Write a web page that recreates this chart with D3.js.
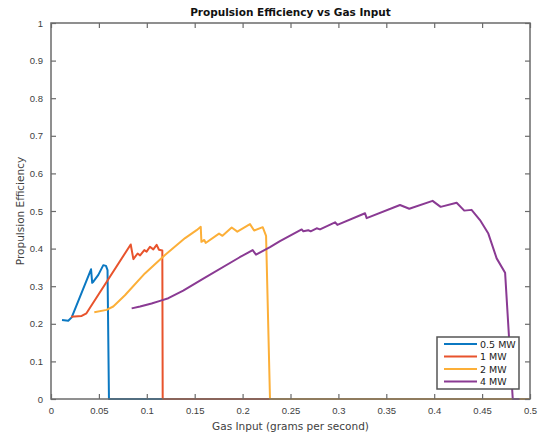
<!DOCTYPE html>
<html>
<head>
<meta charset="utf-8">
<script src="https://cdn.jsdelivr.net/npm/d3@7"></script>
<style>
  html, body { margin: 0; padding: 0; background: #fff; }
  svg { display: block; font-family: "DejaVu Sans", sans-serif; }
</style>
</head>
<body>
<svg id="chart" width="541" height="435"></svg>
<script>
// Propulsion efficiency vs gas input, one series per power level
const seriesNames = ["0.5 MW", "1 MW", "2 MW", "4 MW"];
const seriesColors = ["#0B78C2", "#E8532C", "#FCAF38", "#8A3A93"];

const gas05 = [0.0115, 0.018, 0.0216, 0.0418, 0.043, 0.0442, 0.0494, 0.0546, 0.0574, 0.059, 0.0605, 0.5];
const eff05 = [0.21, 0.208, 0.217, 0.345, 0.309, 0.312, 0.33, 0.356, 0.354, 0.343, 0, 0];

const gas1 = [0.0209, 0.032, 0.037, 0.0832, 0.086, 0.0904, 0.093, 0.0974, 0.0998, 0.1033, 0.1068, 0.1103, 0.1127, 0.1162, 0.1166, 0.5];
const eff1 = [0.219, 0.221, 0.228, 0.411, 0.372, 0.387, 0.382, 0.396, 0.392, 0.405, 0.398, 0.41, 0.397, 0.395, 0, 0];

const gas2 = [0.0452, 0.058, 0.065, 0.0772, 0.098, 0.119, 0.14, 0.152, 0.1563, 0.157, 0.16, 0.1614, 0.1754, 0.179, 0.1886, 0.1945, 0.2077, 0.212, 0.221, 0.2245, 0.2286, 0.5];
const eff2 = [0.231, 0.237, 0.246, 0.276, 0.334, 0.383, 0.428, 0.449, 0.458, 0.418, 0.423, 0.415, 0.44, 0.434, 0.456, 0.445, 0.465, 0.448, 0.457, 0.434, 0, 0];

const gas4 = [0.0842, 0.093, 0.105, 0.1138, 0.1225, 0.138, 0.159, 0.197, 0.2105, 0.214, 0.2286, 0.239, 0.2617, 0.2634, 0.2686, 0.271, 0.2773, 0.2808, 0.2965, 0.2989, 0.3278, 0.3295, 0.3643, 0.374, 0.3983, 0.4067, 0.4234, 0.4314, 0.439, 0.4478, 0.4565, 0.4652, 0.474, 0.482, 0.489];
const eff4 = [0.241, 0.246, 0.254, 0.261, 0.268, 0.288, 0.32, 0.377, 0.396, 0.384, 0.404, 0.42, 0.451, 0.446, 0.449, 0.446, 0.454, 0.451, 0.47, 0.463, 0.494, 0.481, 0.516, 0.506, 0.527, 0.511, 0.522, 0.501, 0.503, 0.476, 0.44, 0.374, 0.336, 0, 0];

const xTicks = [0, 0.05, 0.1, 0.15, 0.2, 0.25, 0.3, 0.35, 0.4, 0.45, 0.5];
const yTicks = [0, 0.1, 0.2, 0.3, 0.4, 0.5, 0.6, 0.7, 0.8, 0.9, 1];

const series = [
  { name: seriesNames[0], color: seriesColors[0], gas: gas05, eff: eff05 },
  { name: seriesNames[1], color: seriesColors[1], gas: gas1, eff: eff1 },
  { name: seriesNames[2], color: seriesColors[2], gas: gas2, eff: eff2 },
  { name: seriesNames[3], color: seriesColors[3], gas: gas4, eff: eff4 }
];

const margin = { left: 51, right: 11, top: 23, bottom: 36 };
const W = 541, H = 435;
const iw = W - margin.left - margin.right;
const ih = H - margin.top - margin.bottom;

const svg = d3.select("#chart");
const g = svg.append("g").attr("transform", `translate(${margin.left},${margin.top})`);

const x = d3.scaleLinear().domain([0, 0.5]).range([0, iw]);
const y = d3.scaleLinear().domain([0, 1]).range([ih, 0]);

const axisColor = "#6b6b6b";
const textColor = "#3e3e3e";
const fmt = d => d === 0 ? "0" : String(+d.toFixed(2));

// Curves
const line = d3.line().x(d => x(d[0])).y(d => y(d[1]));
series.forEach(s => {
  g.append("path")
    .datum(s.gas.map((v, i) => [v, s.eff[i]]))
    .attr("fill", "none")
    .attr("stroke", s.color)
    .attr("stroke-width", 2)
    .attr("stroke-linejoin", "round")
    .attr("d", line);
});

// Axes with inward ticks on all four sides
function styleAxis(sel, showText) {
  sel.select(".domain").remove();
  sel.selectAll(".tick line").attr("stroke", axisColor).attr("stroke-width", 1.2);
  sel.selectAll(".tick text")
    .attr("fill", textColor)
    .style("font-size", "9.5px")
    .style("display", showText ? null : "none");
}

g.append("g").attr("transform", `translate(0,${ih})`)
  .call(d3.axisBottom(x).tickValues(xTicks).tickFormat(fmt).tickSizeInner(-5).tickPadding(8))
  .call(s => styleAxis(s, true));
g.append("g")
  .call(d3.axisTop(x).tickValues(xTicks).tickSizeInner(-5))
  .call(s => styleAxis(s, false));
g.append("g")
  .call(d3.axisLeft(y).tickValues(yTicks).tickFormat(fmt).tickSizeInner(-5).tickPadding(8))
  .call(s => styleAxis(s, true));
g.append("g").attr("transform", `translate(${iw},0)`)
  .call(d3.axisRight(y).tickValues(yTicks).tickSizeInner(-5))
  .call(s => styleAxis(s, false));

// Frame
g.append("rect")
  .attr("x", 0).attr("y", 0).attr("width", iw).attr("height", ih)
  .attr("fill", "none").attr("stroke", axisColor).attr("stroke-width", 1.5);

// Titles
svg.append("text")
  .attr("x", margin.left + iw / 2).attr("y", 16)
  .attr("text-anchor", "middle")
  .style("font-size", "10.5px").style("font-weight", "bold")
  .attr("fill", "#111")
  .text("Propulsion Efficiency vs Gas Input");

svg.append("text")
  .attr("x", margin.left + iw / 2).attr("y", 430)
  .attr("text-anchor", "middle")
  .style("font-size", "10.5px")
  .attr("fill", textColor)
  .text("Gas Input (grams per second)");

svg.append("text")
  .attr("transform", `translate(24,${margin.top + ih / 2}) rotate(-90)`)
  .attr("text-anchor", "middle")
  .style("font-size", "10.5px")
  .attr("fill", textColor)
  .text("Propulsion Efficiency");

// Legend
const lg = svg.append("g").attr("transform", "translate(437,337)");
lg.append("rect")
  .attr("width", 82).attr("height", 52)
  .attr("fill", "#fff").attr("stroke", "#555").attr("stroke-width", 1.5);
series.forEach((s, i) => {
  const row = lg.append("g").attr("transform", `translate(0,${7 + i * 12.5})`);
  row.append("line").attr("x1", 7).attr("x2", 40).attr("y1", 0).attr("y2", 0)
    .attr("stroke", s.color).attr("stroke-width", 2);
  row.append("text").attr("x", 43).attr("y", 3.5)
    .style("font-size", "9.5px").attr("fill", "#222").text(s.name);
});
</script>
</body>
</html>
